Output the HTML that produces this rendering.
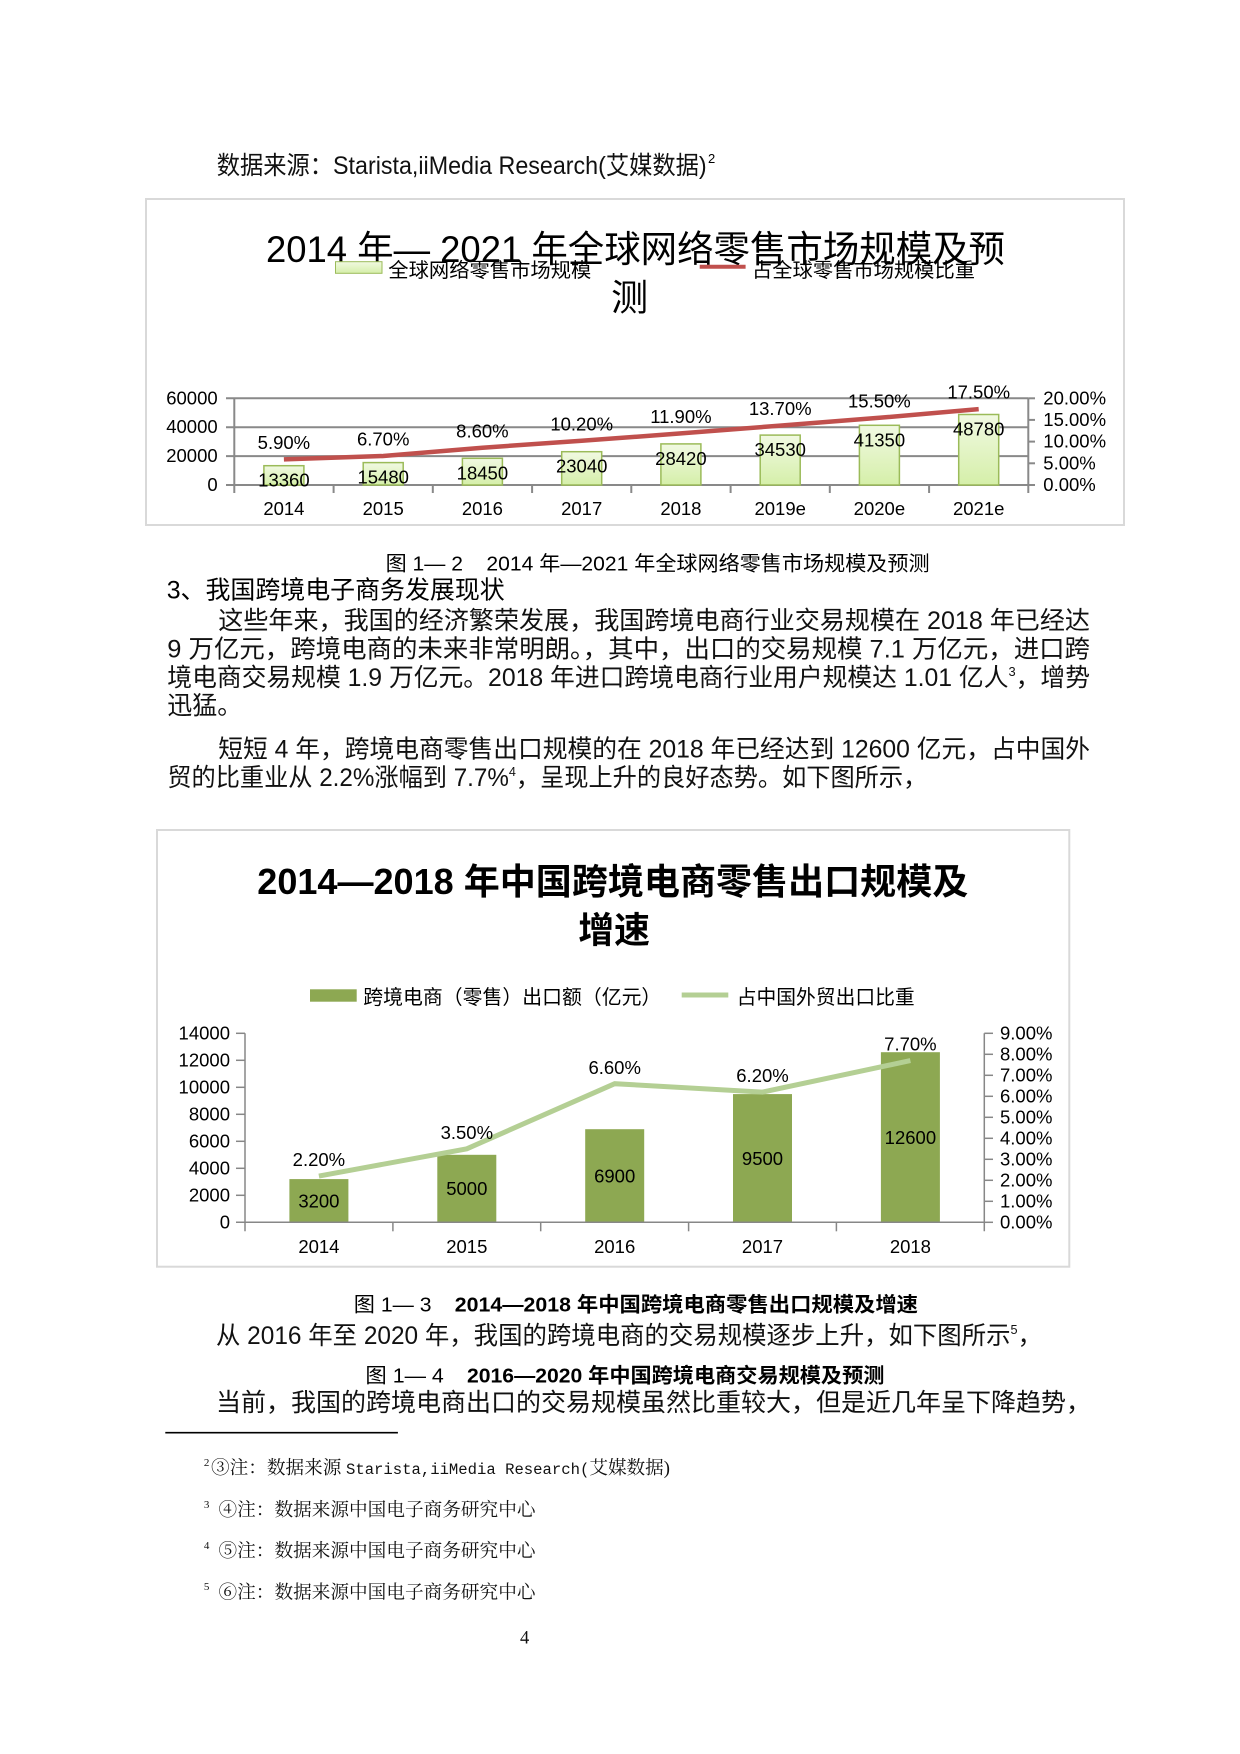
<!DOCTYPE html>
<html>
<head>
<meta charset="utf-8">
<style>
  html,body{margin:0;padding:0;background:#fff;}
  svg{display:block;}
</style>
</head>
<body>
<svg width="1240" height="1754" viewBox="0 0 1240 1754" xmlns="http://www.w3.org/2000/svg" font-family="'Liberation Sans','Noto Sans CJK SC',sans-serif" fill="#000">
  <defs>
    <linearGradient id="gbar" x1="0" y1="0" x2="0" y2="1">
      <stop offset="0" stop-color="#F1F9E2"/>
      <stop offset="1" stop-color="#D5EFA9"/>
    </linearGradient>
  </defs>
  <rect x="0" y="0" width="1240" height="1754" fill="#fff"/>

  <!-- Source line -->
  <text x="216.7" y="174" font-size="25" fill="#111" textLength="490" lengthAdjust="spacingAndGlyphs">数据来源：Starista,iiMedia Research(艾媒数据)</text>
  <text x="708" y="163" font-size="13">2</text>

  <!-- ===== Chart 1 ===== -->
  <rect x="146" y="199" width="978" height="326" fill="#fff" stroke="#D9D9D9" stroke-width="2"/>
  <text x="266" y="262" font-size="37" textLength="739" lengthAdjust="spacingAndGlyphs">2014 年— 2021 年全球网络零售市场规模及预</text>
  <text x="629.6" y="310.5" font-size="37" text-anchor="middle">测</text>
  <!-- legend -->
  <rect x="335.5" y="261.7" width="46.5" height="11.6" fill="url(#gbar)" stroke="#9BBB59" stroke-width="1"/>
  <text x="388.3" y="277" font-size="20" textLength="203" lengthAdjust="spacingAndGlyphs">全球网络零售市场规模</text>
  <line x1="699.7" y1="266.7" x2="745.6" y2="266.7" stroke="#C0504D" stroke-width="4"/>
  <text x="752" y="277" font-size="20" textLength="223" lengthAdjust="spacingAndGlyphs">占全球零售市场规模比重</text>

  <!-- gridlines -->
  <g stroke="#898989" stroke-width="2">
    <line x1="226" y1="398.3" x2="1028.3" y2="398.3"/>
    <line x1="226" y1="427.2" x2="1028.3" y2="427.2"/>
    <line x1="226" y1="456.1" x2="1028.3" y2="456.1"/>
    <line x1="226" y1="485" x2="1028.3" y2="485"/>
    <line x1="234.3" y1="398.3" x2="234.3" y2="493"/>
    <line x1="1028.3" y1="398.3" x2="1028.3" y2="493"/>
    <line x1="333.6" y1="485" x2="333.6" y2="493"/>
    <line x1="432.8" y1="485" x2="432.8" y2="493"/>
    <line x1="532.1" y1="485" x2="532.1" y2="493"/>
    <line x1="631.3" y1="485" x2="631.3" y2="493"/>
    <line x1="730.6" y1="485" x2="730.6" y2="493"/>
    <line x1="829.8" y1="485" x2="829.8" y2="493"/>
    <line x1="929.1" y1="485" x2="929.1" y2="493"/>
    <line x1="1028.3" y1="485" x2="1035" y2="485"/>
    <line x1="1028.3" y1="463.3" x2="1035" y2="463.3"/>
    <line x1="1028.3" y1="441.6" x2="1035" y2="441.6"/>
    <line x1="1028.3" y1="419.9" x2="1035" y2="419.9"/>
    <line x1="1028.3" y1="398.3" x2="1035" y2="398.3"/>
  </g>
  <g font-size="18.5" text-anchor="end">
    <text x="217.7" y="404.3">60000</text>
    <text x="217.7" y="433.2">40000</text>
    <text x="217.7" y="462.1">20000</text>
    <text x="217.7" y="491">0</text>
  </g>
  <g font-size="18.5">
    <text x="1043.3" y="404.3">20.00%</text>
    <text x="1043.3" y="425.9">15.00%</text>
    <text x="1043.3" y="447.6">10.00%</text>
    <text x="1043.3" y="469.3">5.00%</text>
    <text x="1043.3" y="491">0.00%</text>
  </g>
  <!-- bars -->
  <g fill="url(#gbar)" stroke="#9BBB59" stroke-width="1.5">
    <rect x="263.9" y="465.7" width="40" height="19.3"/>
    <rect x="363.2" y="462.6" width="40" height="22.4"/>
    <rect x="462.4" y="458.3" width="40" height="26.7"/>
    <rect x="561.7" y="451.7" width="40" height="33.3"/>
    <rect x="660.9" y="443.9" width="40" height="41.1"/>
    <rect x="760.2" y="435.1" width="40" height="49.9"/>
    <rect x="859.4" y="425.3" width="40" height="59.7"/>
    <rect x="958.7" y="414.5" width="40" height="70.5"/>
  </g>
  <polyline points="283.9,459.4 383.2,456.0 482.4,447.7 581.7,440.8 680.9,433.4 780.2,425.6 879.4,417.8 978.7,409.1" fill="none" stroke="#C0504D" stroke-width="4.5"/>
  <g font-size="18.5" text-anchor="middle">
    <text x="283.9" y="486.7">13360</text>
    <text x="383.2" y="483.6">15480</text>
    <text x="482.4" y="479.3">18450</text>
    <text x="581.7" y="472.7">23040</text>
    <text x="680.9" y="464.9">28420</text>
    <text x="780.2" y="456.1">34530</text>
    <text x="879.4" y="446.3">41350</text>
    <text x="978.7" y="435.5">48780</text>
    <text x="283.9" y="449.0">5.90%</text>
    <text x="383.2" y="445.6">6.70%</text>
    <text x="482.4" y="437.3">8.60%</text>
    <text x="581.7" y="430.4">10.20%</text>
    <text x="680.9" y="423.0">11.90%</text>
    <text x="780.2" y="415.2">13.70%</text>
    <text x="879.4" y="407.4">15.50%</text>
    <text x="978.7" y="398.7">17.50%</text>
    <text x="283.9" y="515">2014</text>
    <text x="383.2" y="515">2015</text>
    <text x="482.4" y="515">2016</text>
    <text x="581.7" y="515">2017</text>
    <text x="680.9" y="515">2018</text>
    <text x="780.2" y="515">2019e</text>
    <text x="879.4" y="515">2020e</text>
    <text x="978.7" y="515">2021e</text>
  </g>

  <!-- caption 1-2 -->
  <text x="385.6" y="570.5" font-size="20.5" textLength="544" lengthAdjust="spacingAndGlyphs">图 1— 2&#160;&#160;&#160;&#160;2014 年—2021 年全球网络零售市场规模及预测</text>
  <!-- heading -->
  <text x="166.7" y="598.5" font-size="25" textLength="338" lengthAdjust="spacingAndGlyphs">3、我国跨境电子商务发展现状</text>
  <!-- body -->
  <g font-size="25" fill="#111">
    <text x="218.3" y="629.2" textLength="871.7" lengthAdjust="spacingAndGlyphs">这些年来，我国的经济繁荣发展，我国跨境电商行业交易规模在 2018 年已经达</text>
    <text x="167.3" y="657.5" textLength="922.7" lengthAdjust="spacingAndGlyphs">9 万亿元，跨境电商的未来非常明朗。，其中，出口的交易规模 7.1 万亿元，进口跨</text>
    <text x="167.3" y="685.9" textLength="922.7" lengthAdjust="spacingAndGlyphs">境电商交易规模 1.9 万亿元。2018 年进口跨境电商行业用户规模达 1.01 亿人<tspan font-size="13" dy="-10">3</tspan><tspan dy="10">，增势</tspan></text>
    <text x="167.3" y="714.2">迅猛。</text>
    <text x="218.3" y="757.5" textLength="871.7" lengthAdjust="spacingAndGlyphs">短短 4 年，跨境电商零售出口规模的在 2018 年已经达到 12600 亿元，占中国外</text>
    <text x="167.3" y="785.9" textLength="760" lengthAdjust="spacingAndGlyphs">贸的比重业从 2.2%涨幅到 7.7%<tspan font-size="13" dy="-10">4</tspan><tspan dy="10">，呈现上升的良好态势。如下图所示，</tspan></text>
  </g>

  <!-- ===== Chart 2 ===== -->
  <rect x="157" y="830" width="912.3" height="436.7" fill="#fff" stroke="#D9D9D9" stroke-width="2"/>
  <text x="257.3" y="894" font-size="36" font-weight="bold" textLength="711" lengthAdjust="spacingAndGlyphs">2014—2018 年中国跨境电商零售出口规模及</text>
  <text x="578.3" y="942.5" font-size="36" font-weight="bold" textLength="71.7" lengthAdjust="spacingAndGlyphs">增速</text>
  <rect x="310" y="989.3" width="46.7" height="12.4" fill="#8DA852"/>
  <text x="363.3" y="1004" font-size="20" textLength="298" lengthAdjust="spacingAndGlyphs">跨境电商（零售）出口额（亿元）</text>
  <line x1="681.7" y1="995" x2="728.3" y2="995" stroke="#B4CF94" stroke-width="5"/>
  <text x="736.7" y="1004" font-size="20" textLength="178" lengthAdjust="spacingAndGlyphs">占中国外贸出口比重</text>

  <!-- bars -->
  <g fill="#8DA852">
    <rect x="289.4" y="1179.1" width="59" height="43.2"/>
    <rect x="437.3" y="1154.8" width="59" height="67.5"/>
    <rect x="585.2" y="1129.2" width="59" height="93.1"/>
    <rect x="733.0" y="1094.1" width="59" height="128.2"/>
    <rect x="880.9" y="1052.2" width="59" height="170.1"/>
  </g>
  <g stroke="#878787" stroke-width="1.5">
    <line x1="245" y1="1033.3" x2="245" y2="1231.3"/>
    <line x1="984.3" y1="1033.3" x2="984.3" y2="1231.3"/>
    <line x1="236" y1="1222.3" x2="984.3" y2="1222.3"/>
    <line x1="236" y1="1195.3" x2="245" y2="1195.3"/>
    <line x1="236" y1="1168.3" x2="245" y2="1168.3"/>
    <line x1="236" y1="1141.3" x2="245" y2="1141.3"/>
    <line x1="236" y1="1114.3" x2="245" y2="1114.3"/>
    <line x1="236" y1="1087.3" x2="245" y2="1087.3"/>
    <line x1="236" y1="1060.3" x2="245" y2="1060.3"/>
    <line x1="236" y1="1033.3" x2="245" y2="1033.3"/>
    <line x1="984.3" y1="1222.3" x2="993" y2="1222.3"/>
    <line x1="984.3" y1="1201.3" x2="993" y2="1201.3"/>
    <line x1="984.3" y1="1180.3" x2="993" y2="1180.3"/>
    <line x1="984.3" y1="1159.3" x2="993" y2="1159.3"/>
    <line x1="984.3" y1="1138.3" x2="993" y2="1138.3"/>
    <line x1="984.3" y1="1117.3" x2="993" y2="1117.3"/>
    <line x1="984.3" y1="1096.3" x2="993" y2="1096.3"/>
    <line x1="984.3" y1="1075.3" x2="993" y2="1075.3"/>
    <line x1="984.3" y1="1054.3" x2="993" y2="1054.3"/>
    <line x1="984.3" y1="1033.3" x2="993" y2="1033.3"/>
    <line x1="392.9" y1="1222.3" x2="392.9" y2="1231.3"/>
    <line x1="540.7" y1="1222.3" x2="540.7" y2="1231.3"/>
    <line x1="688.6" y1="1222.3" x2="688.6" y2="1231.3"/>
    <line x1="836.4" y1="1222.3" x2="836.4" y2="1231.3"/>
  </g>
  <polyline points="318.9,1176.1 466.8,1148.8 614.7,1083.7 762.5,1092.1 910.4,1060.6" fill="none" stroke="#B4CF94" stroke-width="5"/>
  <g font-size="18.5" text-anchor="end">
    <text x="230" y="1228.3">0</text>
    <text x="230" y="1201.3">2000</text>
    <text x="230" y="1174.3">4000</text>
    <text x="230" y="1147.3">6000</text>
    <text x="230" y="1120.3">8000</text>
    <text x="230" y="1093.3">10000</text>
    <text x="230" y="1066.3">12000</text>
    <text x="230" y="1039.3">14000</text>
  </g>
  <g font-size="18.5">
    <text x="1000" y="1228.3">0.00%</text>
    <text x="1000" y="1207.3">1.00%</text>
    <text x="1000" y="1186.3">2.00%</text>
    <text x="1000" y="1165.3">3.00%</text>
    <text x="1000" y="1144.3">4.00%</text>
    <text x="1000" y="1123.3">5.00%</text>
    <text x="1000" y="1102.3">6.00%</text>
    <text x="1000" y="1081.3">7.00%</text>
    <text x="1000" y="1060.3">8.00%</text>
    <text x="1000" y="1039.3">9.00%</text>
  </g>
  <g font-size="18.5" text-anchor="middle">
    <text x="318.9" y="1207.3">3200</text>
    <text x="466.8" y="1195.2">5000</text>
    <text x="614.7" y="1182.4">6900</text>
    <text x="762.5" y="1164.8">9500</text>
    <text x="910.4" y="1143.9">12600</text>
    <text x="318.9" y="1166.2">2.20%</text>
    <text x="466.8" y="1138.9">3.50%</text>
    <text x="614.7" y="1073.8">6.60%</text>
    <text x="762.5" y="1082.2">6.20%</text>
    <text x="910.4" y="1050.7">7.70%</text>
    <text x="318.9" y="1253">2014</text>
    <text x="466.8" y="1253">2015</text>
    <text x="614.7" y="1253">2016</text>
    <text x="762.5" y="1253">2017</text>
    <text x="910.4" y="1253">2018</text>
  </g>

  <!-- caption 1-3 -->
  <text x="353.8" y="1311.5" font-size="20.5" textLength="77.7" lengthAdjust="spacingAndGlyphs">图 1—&#160;3</text>
  <text x="454.8" y="1311.5" font-size="20.5" font-weight="bold" textLength="463.2" lengthAdjust="spacingAndGlyphs">2014—2018 年中国跨境电商零售出口规模及增速</text>
  <text x="216" y="1344.2" font-size="25" fill="#111" textLength="826" lengthAdjust="spacingAndGlyphs">从 2016 年至 2020 年，我国的跨境电商的交易规模逐步上升，如下图所示<tspan font-size="13" dy="-10">5</tspan><tspan dy="10">，</tspan></text>
  <!-- caption 1-4 -->
  <text x="365.4" y="1382.5" font-size="20.5" textLength="78.4" lengthAdjust="spacingAndGlyphs">图 1—&#160;4</text>
  <text x="467" y="1382.5" font-size="20.5" font-weight="bold" textLength="417.4" lengthAdjust="spacingAndGlyphs">2016—2020 年中国跨境电商交易规模及预测</text>
  <text x="216" y="1410.9" font-size="25" fill="#111" textLength="875" lengthAdjust="spacingAndGlyphs">当前，我国的跨境电商出口的交易规模虽然比重较大，但是近几年呈下降趋势，</text>

  <!-- footnote separator -->
  <line x1="165.3" y1="1432.7" x2="397.9" y2="1432.7" stroke="#000" stroke-width="1.6"/>

  <!-- footnotes -->
  <g font-family="'Liberation Serif','Noto Serif CJK SC',serif" fill="#111">
    <text x="203.9" y="1466" font-size="11">2</text>
    <text x="211" y="1474" font-size="18.5" textLength="459" lengthAdjust="spacingAndGlyphs">③注：数据来源&#160;<tspan font-family="'Liberation Mono',monospace" font-size="15.5">Starista,iiMedia Research(</tspan>艾媒数据)</text>
    <text x="203.9" y="1508" font-size="11">3</text>
    <text x="218.5" y="1516.1" font-size="18.5" textLength="317" lengthAdjust="spacingAndGlyphs">④注：数据来源中国电子商务研究中心</text>
    <text x="203.9" y="1549" font-size="11">4</text>
    <text x="218.5" y="1556.8" font-size="18.5" textLength="317" lengthAdjust="spacingAndGlyphs">⑤注：数据来源中国电子商务研究中心</text>
    <text x="203.9" y="1590" font-size="11">5</text>
    <text x="218.5" y="1598.5" font-size="18.5" textLength="317" lengthAdjust="spacingAndGlyphs">⑥注：数据来源中国电子商务研究中心</text>
    <text x="520" y="1643.5" font-size="18.5">4</text>
  </g>
</svg>
</body>
</html>
